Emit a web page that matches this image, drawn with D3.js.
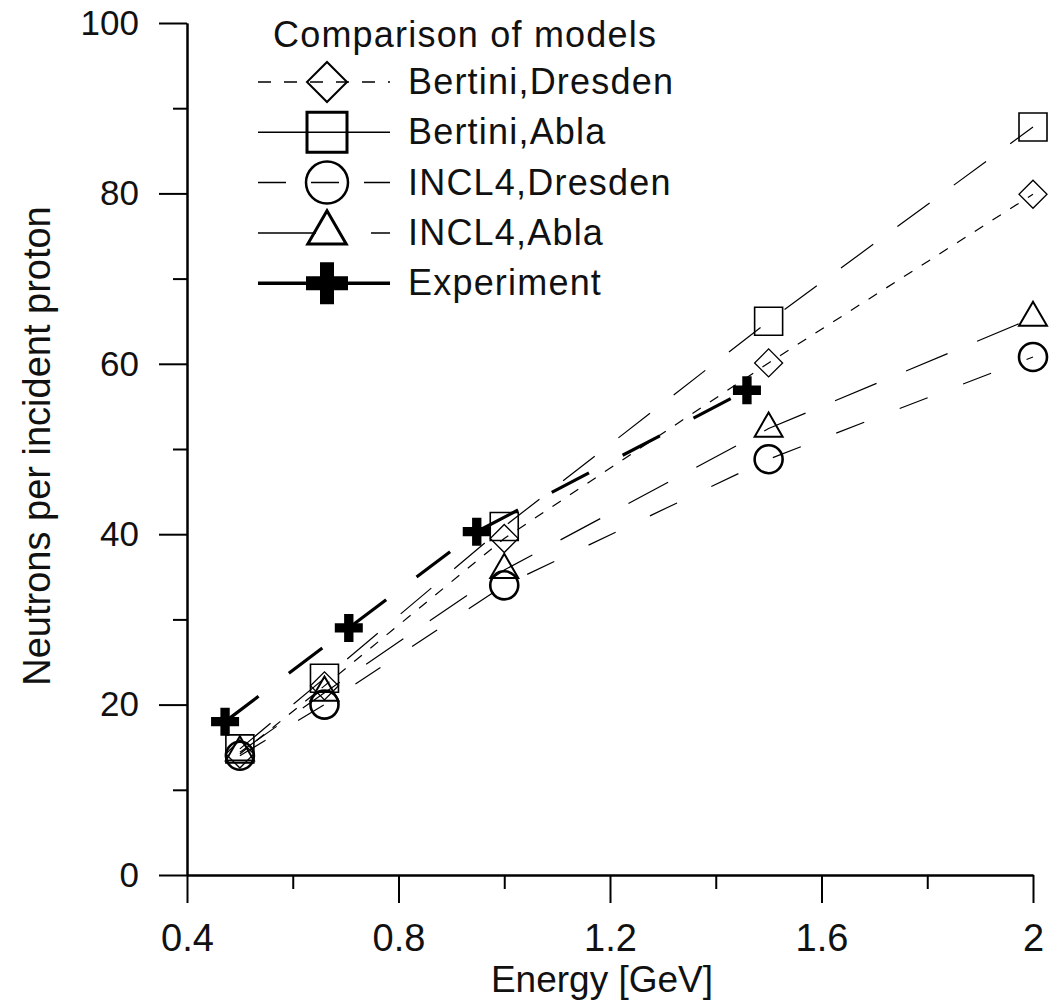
<!DOCTYPE html>
<html>
<head>
<meta charset="utf-8">
<script src="https://cdn.jsdelivr.net/npm/d3@7"></script>
<style>
  body { margin: 0; background: #fff; }
  text { font-family: "Liberation Sans", Arial, sans-serif; fill: #111; }
</style>
</head>
<body>
<div id="chart"></div>
<script>
// model energies [GeV] and neutron yields
const energyModel = [0.5, 0.66, 1.0, 1.5, 2.0];
const bertiniDresden = [14.2, 22.2, 39.5, 60.1, 79.9];
const bertiniAbla = [14.8, 23.1, 40.9, 65.0, 87.8];
const incl4Dresden = [14.0, 20.0, 34.0, 48.8, 60.8];
const incl4Abla = [14.4, 21.4, 35.8, 52.4, 65.4];
// measured points
const energyExp = [0.472, 0.706, 0.948, 1.459];
const experiment = [18.0, 29.0, 40.3, 56.9];

const xMajor = [0.4, 0.8, 1.2, 1.6, 2];
const xMinor = [0.6, 1.0, 1.4, 1.8];
const yMajor = [0, 20, 40, 60, 80, 100];
const yMinor = [10, 30, 50, 70, 90];

(function neutrons() {
  let width = 1052, height = 1002;

  const svg = d3.select("#chart")
    .append("svg")
    .attr("width", width)
    .attr("height", height);

  let x = d3.scaleLinear([0.4, 2], [187, 1033]);
  let y = d3.scaleLinear([0, 100], [875, 23]);

  // axes
  const gx = svg.append("g")
    .attr("transform", `translate(0,${y(0)})`)
    .call(d3.axisBottom(x).tickValues(xMajor).tickSize(28).tickSizeOuter(0).tickPadding(21).tickFormat(d => String(d)));
  svg.append("g")
    .attr("transform", `translate(0,${y(0)})`)
    .call(d3.axisBottom(x).tickValues(xMinor).tickSize(14).tickSizeOuter(0).tickFormat(""));

  const gy = svg.append("g")
    .attr("transform", `translate(${x(0.4)},0)`)
    .call(d3.axisLeft(y).tickValues(yMajor).tickSize(28).tickSizeOuter(0).tickPadding(20));
  svg.append("g")
    .attr("transform", `translate(${x(0.4)},0)`)
    .call(d3.axisLeft(y).tickValues(yMinor).tickSize(14).tickSizeOuter(0).tickFormat(""));

  svg.selectAll(".domain, .tick line").attr("stroke", "#000").attr("stroke-width", 2);
  gx.selectAll("text").style("font-size", "38px").attr("fill", "#111");
  gy.selectAll("text").style("font-size", "35px").attr("fill", "#111");

  svg.append("text")
    .attr("x", 602).attr("y", 992)
    .attr("text-anchor", "middle")
    .style("font-size", "37px")
    .text("Energy [GeV]");

  svg.append("text")
    .attr("transform", "translate(50,446) rotate(-90)")
    .attr("text-anchor", "middle")
    .style("font-size", "38px")
    .text("Neutrons per incident proton");

  const series = [
    { name: "Bertini,Dresden", xs: energyModel, ys: bertiniDresden, dash: "10,11", lw: 1.2,
      sym: d3.symbolSquare, size: 392, rot: 45, sw: 1.3, lsize: 800, lsw: 2, ldash: "13,13", llw: 1.5 },
    { name: "Bertini,Abla", xs: energyModel, ys: bertiniAbla, dash: "40,30", lw: 1.2,
      sym: d3.symbolSquare, size: 784, rot: 0, sw: 1.6, lsize: 1600, lsw: 3, ldash: null, llw: 1.5 },
    { name: "INCL4,Dresden", xs: energyModel, ys: incl4Dresden, dash: "30,38", lw: 1.2,
      sym: d3.symbolCircle, size: 616, rot: 0, sw: 2.6, lsize: 1385, lsw: 2.5, ldash: "28,25", llw: 1.5 },
    { name: "INCL4,Abla", xs: energyModel, ys: incl4Abla, dash: "45,32", lw: 1.2,
      sym: d3.symbolTriangle, size: 339, rot: 0, sw: 2, lsize: 640, lsw: 3, ldash: "58,55", llw: 1.5 },
    { name: "Experiment", xs: energyExp, ys: experiment, dash: "42,38", lw: 3.2,
      sym: d3.symbolCross, size: 436, rot: 0, sw: 0, lsize: 980, lsw: 0, ldash: null, llw: 3.5, filled: true }
  ];

  const line = d3.line().x(d => x(d[0])).y(d => y(d[1]));

  series.forEach(s => {
    const pts = s.xs.map((e, i) => [e, s.ys[i]]);
    svg.append("path")
      .datum(pts)
      .attr("d", line)
      .attr("fill", "none")
      .attr("stroke", "#000")
      .attr("stroke-width", s.lw)
      .attr("stroke-dasharray", s.dash);
    svg.append("g")
      .selectAll("path")
      .data(pts)
      .join("path")
      .attr("transform", d => `translate(${x(d[0])},${y(d[1])}) rotate(${s.rot})`)
      .attr("d", d3.symbol(s.sym, s.size))
      .attr("fill", s.filled ? "#000" : "none")
      .attr("stroke", "#000")
      .attr("stroke-width", s.sw);
  });

  // legend
  const lg = svg.append("g");
  lg.append("text").attr("x", 273).attr("y", 47)
    .style("font-size", "36px").style("letter-spacing", "1.2px")
    .text("Comparison of models");
  series.forEach((s, i) => {
    const cy = 82 + i * 50.3;
    lg.append("line")
      .attr("x1", 258).attr("x2", 390).attr("y1", cy).attr("y2", cy)
      .attr("stroke", "#000")
      .attr("stroke-width", s.llw)
      .attr("stroke-dasharray", s.ldash);
    lg.append("path")
      .attr("transform", `translate(327,${cy}) rotate(${s.rot})`)
      .attr("d", d3.symbol(s.sym, s.lsize))
      .attr("fill", s.filled ? "#000" : "none")
      .attr("stroke", "#000")
      .attr("stroke-width", s.lsw);
    lg.append("text").attr("x", 408).attr("y", cy + 12)
      .style("font-size", "36px").style("letter-spacing", "1.2px")
      .text(s.name);
  });
})();
</script>
</body>
</html>
